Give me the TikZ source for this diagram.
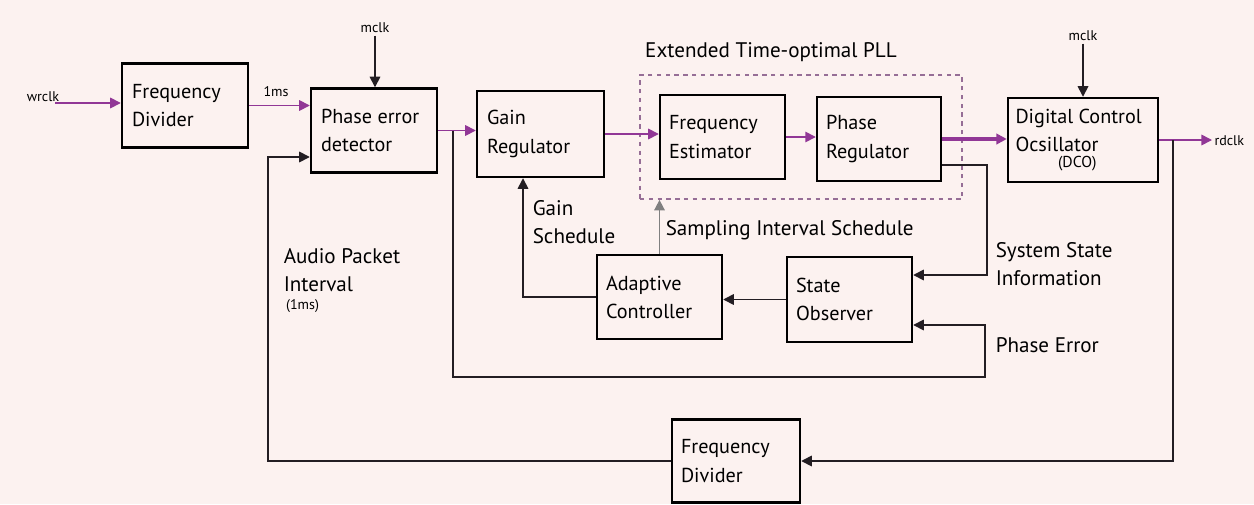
\documentclass[tikz,border=0pt]{standalone}
\usepackage{fontspec}
\setmainfont{PT Sans}
\usetikzlibrary{arrows.meta}

\definecolor{paper}{RGB}{252,242,240}
\definecolor{sig}{RGB}{145,55,150}
\definecolor{wire}{RGB}{35,30,35}
\definecolor{frame}{RGB}{150,110,150}

\begin{document}
\begin{tikzpicture}[x=0.02cm, y=-0.02cm, line width=0.9pt, draw=wire,
  every node/.style={font=\fontsize{12}{16}\selectfont},
  box/.style={draw=black, rectangle, line width=1.4pt, align=flush left, inner xsep=0.2cm, minimum height=1.68cm,
    font=\fontsize{11.5}{16}\selectfont},
  tag/.style={font=\fontsize{8}{9}\selectfont, inner sep=1pt},
  >={Triangle[length=6pt, width=6pt]}]
\fill[paper] (0,0) rectangle (1254,504);
\useasboundingbox (0,0) rectangle (1254,504);

% blocks
\node[box, text width=2.12cm] (fdiv) at (185,105.5) {Frequency\\Divider};
\node[box, text width=2.12cm] (ped) at (374,130.5) {Phase error\\detector};
\node[box, text width=2.14cm, minimum height=1.72cm] (gainreg) at (540.5,134) {Gain\\Regulator};
\node[box, text width=2.14cm, inner xsep=0.18cm] (freqest) at (722.5,137) {Frequency\\Estimator};
\node[box, text width=2.12cm, inner xsep=0.18cm] (phasereg) at (879,139) {Phase\\Regulator};
\node[box, text width=2.7cm, inner xsep=0.15cm] (dco) at (1083,140) {Digital Control\\Ocsillator\\[-7pt]\hspace*{0.85cm}{\fontsize{9}{9}\selectfont(DCO)}};
\node[box, text width=2.14cm, inner xsep=0.18cm] (adapt) at (659.5,297) {Adaptive\\Controller};
\node[box, text width=2.14cm, inner xsep=0.18cm, minimum height=1.7cm] (observer) at (849.5,299.5) {State\\Observer};
\node[box, text width=2.2cm, inner xsep=0.18cm, minimum height=1.66cm] (fdivb) at (736,461) {Frequency\\Divider};

% PLL frame
\node[draw=frame, dash pattern=on 2.5pt off 2.5pt, line width=1pt, minimum width=6.44cm, minimum height=2.48cm] (pll) at (801,137) {};
\node (plltxt) at (771,52) {Extended Time-optimal PLL};

% clock labels
\node[tag] (wrclk) at (43,97) {wrclk};
\node[tag] (ms) at (276,92) {1ms};
\node[tag] (mclka) at (375,28) {mclk};
\node[tag] (mclkb) at (1083,36) {mclk};
\node[tag, anchor=west] (rdclk) at (1212,141) {rdclk};

% signal labels
\node[anchor=west, align=left, inner sep=0pt] (gsched) at (532,222) {Gain\\Schedule};
\node[anchor=west, inner sep=0pt] (ssched) at (665,230) {Sampling Interval Schedule};
\node[anchor=west, align=left, inner sep=0pt] (sysinfo) at (995,264) {System State\\Information};
\node[anchor=west, inner sep=0pt] (perrtxt) at (995,345) {Phase Error};
\node[anchor=north west, align=left, inner sep=0pt] (audio) at (283,248) {Audio Packet\\Interval\\[-6pt]{\fontsize{8}{9}\selectfont\,(1ms)}};

\coordinate (wrin) at (55,103);
\coordinate (petap) at (453,130.5);
\coordinate (perr) at (985,377);
\coordinate (sysst) at (987,275);
\coordinate (rdtap) at (1173,140);
\coordinate (fbk) at (268,157);

% forward path
\draw[->, sig] (wrin) -- (wrin -| fdiv.west);
\draw[->, sig] (fdiv.east) -- (fdiv.east -| ped.west);
\draw[->, sig] (ped.east) -- (ped.east -| gainreg.west);
\draw[->, sig] (gainreg.east) -- (gainreg.east -| freqest.west);
\draw[->, sig] (freqest.east) -- (freqest.east -| phasereg.west);
\draw[->, sig, line width=1.8pt] (phasereg.east) -- (phasereg.east -| dco.west);
\draw[->, sig] (dco.east) -- (dco.east -| rdclk.west);
\draw[->] (mclka) -- (mclka |- ped.north);
\draw[->] (mclkb) -- (mclkb |- dco.north);

% observer and controller loop
\draw[->] ([yshift=-0.52cm]phasereg.east) -| (sysst) -- ([yshift=0.49cm]observer.east);
\draw[->] (petap) |- (perr) |- ([yshift=-0.51cm]observer.east);
\draw[->] (observer.west) -- (observer.west -| adapt.east);
\draw[->] (adapt.west) -| ([xshift=-0.35cm]gainreg.south);
\draw[->, gray] (adapt.north) -- (adapt.north |- pll.south);

% clock feedback
\draw[->] (rdtap) |- (fdivb.east);
\draw[->] (fdivb.west) -| (fbk) -- ([yshift=-0.53cm]ped.west);
\end{tikzpicture}
\end{document}
